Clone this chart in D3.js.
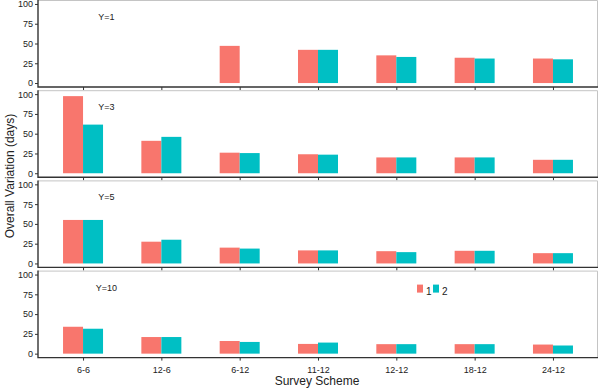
<!DOCTYPE html>
<html>
<head>
<meta charset="utf-8">
<script src="https://cdnjs.cloudflare.com/ajax/libs/d3/7.8.5/d3.min.js"></script>
<style>
  body { margin: 0; background: #fff; }
  svg { display: block; font-family: Arial, "Liberation Sans", sans-serif; }
</style>
</head>
<body>
<div id="chart"></div>
<script>
// data
const schemes = ['6-6', '12-6', '6-12', '11-12', '12-12', '18-12', '24-12']
const groups = ['1', '2']
const panelLabels = ['Y=1', 'Y=3', 'Y=5', 'Y=10']
const yTicks = [0, 25, 50, 75, 100]

// null = no bar
const y1Group1 = [null, null, 47, 42, 35, 32, 31]
const y1Group2 = [null, null, null, 42, 33, 31, 30]
const y3Group1 = [97.5, 41, 26, 24, 20, 20, 17]
const y3Group2 = [61.5, 46, 25.5, 23.5, 20, 20, 17]
const y5Group1 = [55, 27.5, 20, 16.5, 15.5, 16, 13]
const y5Group2 = [55, 30, 18.8, 16.5, 14.3, 16, 13]
const y10Group1 = [34, 21, 16, 12.3, 12, 12, 11.5]
const y10Group2 = [31.5, 21, 14.8, 14, 12, 12, 10.3]

const panelValues = [
  [y1Group1, y1Group2],
  [y3Group1, y3Group2],
  [y5Group1, y5Group2],
  [y10Group1, y10Group2]
]

const colors = ['#F8766D', '#00BFC4']
const width = 600
const height = 388
const left = 38
const right = 598
const panelH = 87
const panelStep = 90.2

const svg = d3.select('#chart')
  .append('svg')
  .attr('width', width)
  .attr('height', height)

const x = d3.scalePoint()
  .domain(schemes)
  .range([left, right])
  .padding(0.575)

const xInner = d3.scaleBand()
  .domain(groups)
  .range([-20, 20])

const color = d3.scaleOrdinal()
  .domain(groups)
  .range(colors)

panelValues.forEach((series, p) => {
  const top = p * panelStep
  const g = svg.append('g').attr('transform', `translate(0,${top})`)

  const y = d3.scaleLinear()
    .domain([-5, 105])
    .range([panelH, 0])

  // grey frame on top / right
  g.append('path')
    .attr('d', `M${left},0.5H${right - 0.5}V${panelH}`)
    .attr('fill', 'none')
    .attr('stroke', '#c4c4c4')
    .attr('stroke-width', 1)

  // bars
  series.forEach((vals, s) => {
    g.append('g')
      .selectAll('rect')
      .data(vals.map((v, i) => ({ v, cat: schemes[i] })).filter(d => d.v != null))
      .enter()
      .append('rect')
      .attr('x', d => x(d.cat) + xInner(groups[s]))
      .attr('width', xInner.bandwidth())
      .attr('y', d => y(d.v))
      .attr('height', d => y(0) - y(d.v))
      .attr('fill', color(groups[s]))
  })

  // y axis
  const yAxis = g.append('g')
    .attr('transform', `translate(${left},0)`)
    .call(d3.axisLeft(y).tickValues(yTicks).tickSize(3).tickPadding(2))
  yAxis.select('.domain').remove()
  yAxis.selectAll('line').attr('stroke', '#333')
  yAxis.selectAll('text').attr('font-size', 9).attr('fill', '#222')

  // x axis
  const xAxis = g.append('g')
    .attr('transform', `translate(0,${panelH})`)
    .call(d3.axisBottom(x).tickSize(3).tickPadding(6))
  xAxis.select('.domain').remove()
  xAxis.selectAll('line').attr('stroke', '#333')
  xAxis.selectAll('text')
    .attr('font-size', 9)
    .attr('fill', '#222')
    .style('display', p === panelValues.length - 1 ? null : 'none')

  // axis lines
  g.append('path')
    .attr('d', `M${left},0V${panelH}H${right}`)
    .attr('fill', 'none')
    .attr('stroke', '#333')
    .attr('stroke-width', 1.4)

  g.append('text')
    .attr('x', 106.5)
    .attr('y', 20)
    .attr('text-anchor', 'middle')
    .attr('font-size', 9)
    .attr('fill', '#222')
    .text(panelLabels[p])
})

// legend inside the last panel
const legend = svg.append('g')
  .attr('transform', `translate(417,${3 * panelStep + 14})`)
groups.forEach((k, i) => {
  legend.append('rect')
    .attr('x', i * 16)
    .attr('y', 0)
    .attr('width', 6)
    .attr('height', 8)
    .attr('fill', color(k))
  legend.append('text')
    .attr('x', i * 16 + 9)
    .attr('y', 10)
    .attr('font-size', 10)
    .attr('fill', '#222')
    .text(k)
})

svg.append('text')
  .attr('transform', 'translate(14,176) rotate(-90)')
  .attr('text-anchor', 'middle')
  .attr('font-size', 12)
  .attr('fill', '#222')
  .text('Overall Variation (days)')

svg.append('text')
  .attr('x', 317)
  .attr('y', 385)
  .attr('text-anchor', 'middle')
  .attr('font-size', 12)
  .attr('fill', '#222')
  .text('Survey Scheme')
</script>
</body>
</html>
